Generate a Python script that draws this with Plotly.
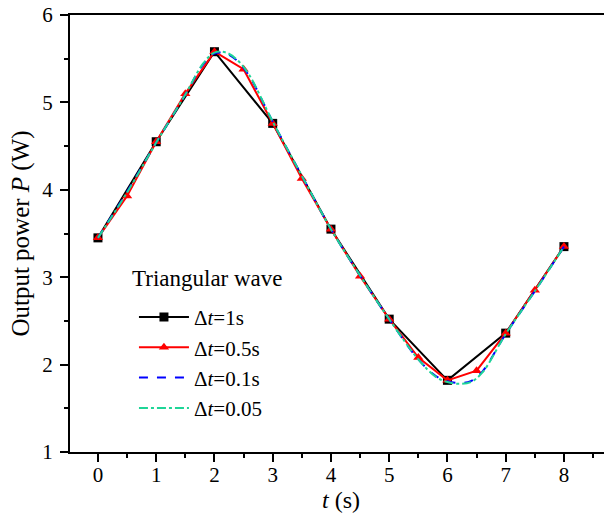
import plotly.graph_objects as go

# Δt = 1 s
t_1 = [0, 1, 2, 3, 4, 5, 6, 7, 8]
p_1 = [3.45, 4.55, 5.58, 4.76, 3.55, 2.52, 1.82, 2.36, 3.35]

# Δt = 0.5 s
t_05 = [0, 0.5, 1, 1.5, 2, 2.5, 3, 3.5, 4, 4.5, 5, 5.5, 6, 6.5, 7, 7.5, 8]
p_05 = [3.45, 3.93, 4.55, 5.10, 5.58, 5.38, 4.76, 4.13, 3.55, 3.01, 2.52, 2.08,
        1.82, 1.93, 2.36, 2.85, 3.35]

# Δt = 0.1 s
t_01 = [0, 0.5, 1, 1.5, 1.8, 2.0, 2.2, 2.4, 2.6, 3, 3.5, 4, 4.5, 5, 5.5, 5.8,
        6.0, 6.2, 6.4, 6.6, 7, 7.5, 8]
p_01 = [3.45, 3.98, 4.54, 5.09, 5.43, 5.56, 5.56, 5.47, 5.30, 4.78, 4.16, 3.55,
        3.02, 2.52, 2.06, 1.87, 1.81, 1.79, 1.81, 1.92, 2.35, 2.84, 3.35]

# Δt = 0.05 s
t_005 = [0, 0.5, 1, 1.5, 1.8, 2.0, 2.2, 2.4, 2.6, 3, 3.5, 4, 4.5, 5, 5.5, 5.8,
         6.0, 6.2, 6.4, 6.6, 7, 7.5, 8]
p_005 = [3.45, 3.97, 4.54, 5.09, 5.44, 5.57, 5.57, 5.48, 5.31, 4.78, 4.16, 3.55,
         3.02, 2.52, 2.06, 1.86, 1.80, 1.78, 1.80, 1.91, 2.35, 2.84, 3.35]

font = 'Liberation Serif'

fig = go.Figure()

fig.add_trace(go.Scatter(x=t_1, y=p_1, mode='lines+markers', name='Δ<i>t</i>=1s',
                         line=dict(width=2, color='black'),
                         marker=dict(symbol='square', size=9, color='black')))

fig.add_trace(go.Scatter(x=t_05, y=p_05, mode='lines+markers', name='Δ<i>t</i>=0.5s',
                         line=dict(width=2, color='red'),
                         marker=dict(symbol='triangle-up', size=9, color='red')))

fig.add_trace(go.Scatter(x=t_01, y=p_01, mode='lines', name='Δ<i>t</i>=0.1s',
                         line=dict(width=2, color='blue', dash='dash', shape='spline')))

fig.add_trace(go.Scatter(x=t_005, y=p_005, mode='lines', name='Δ<i>t</i>=0.05',
                         line=dict(width=2, color='#1ed597', dash='dashdot', shape='spline')))

# plot area runs a little past the window's right edge, like the cropped original
fig.update_xaxes(range=[-0.48, 8.825], tickvals=list(range(9)), automargin=False,
                 showline=True, linecolor='black', linewidth=2, mirror=True,
                 ticks='outside', ticklen=8, tickwidth=1.5, tickcolor='black',
                 minor=dict(dtick=0.5, tick0=0, ticks='outside', ticklen=4, tickcolor='black', tickwidth=1.5),
                 showgrid=False, zeroline=False, ticklabelstandoff=-5,
                 tickfont=dict(family=font, size=21, color='black'),
                 title=dict(text='<i>t</i> (s)', font=dict(family=font, size=24, color='black'), standoff=2))

fig.update_yaxes(range=[1, 6], dtick=1, automargin=False,
                 showline=True, linecolor='black', linewidth=2,
                 ticks='outside', ticklen=8, tickwidth=1.5, tickcolor='black',
                 minor=dict(dtick=0.5, tick0=0, ticks='outside', ticklen=4, tickcolor='black', tickwidth=1.5),
                 showgrid=False, zeroline=False, ticklabelstandoff=3, ticklabeloverflow='allow',
                 tickfont=dict(family=font, size=21, color='black'),
                 title=dict(text='Output power <i>P</i> (W)', font=dict(family=font, size=25, color='black'), standoff=6))

fig.add_annotation(text='Triangular wave', xref='paper', yref='paper', x=0.1107, y=0.398,
                   xanchor='left', yanchor='middle', showarrow=False,
                   font=dict(family=font, size=23, color='black'))

fig.update_layout(width=612, height=524,
                  margin=dict(l=70, r=0, t=15, b=72),
                  plot_bgcolor='white', paper_bgcolor='white',
                  legend=dict(x=0.118, y=0.355, xanchor='left', yanchor='top',
                              bgcolor='rgba(0,0,0,0)',
                              font=dict(family=font, size=21, color='black'),
                              tracegroupgap=0, itemwidth=50))

# drop the default 8px page margin so the figure fills the window
fig.write_html("out.html", config={'displayModeBar': False},
               post_script="document.body.style.margin='0';"
                           "document.body.style.overflow='hidden';"
                           "document.documentElement.style.overflow='hidden';")
